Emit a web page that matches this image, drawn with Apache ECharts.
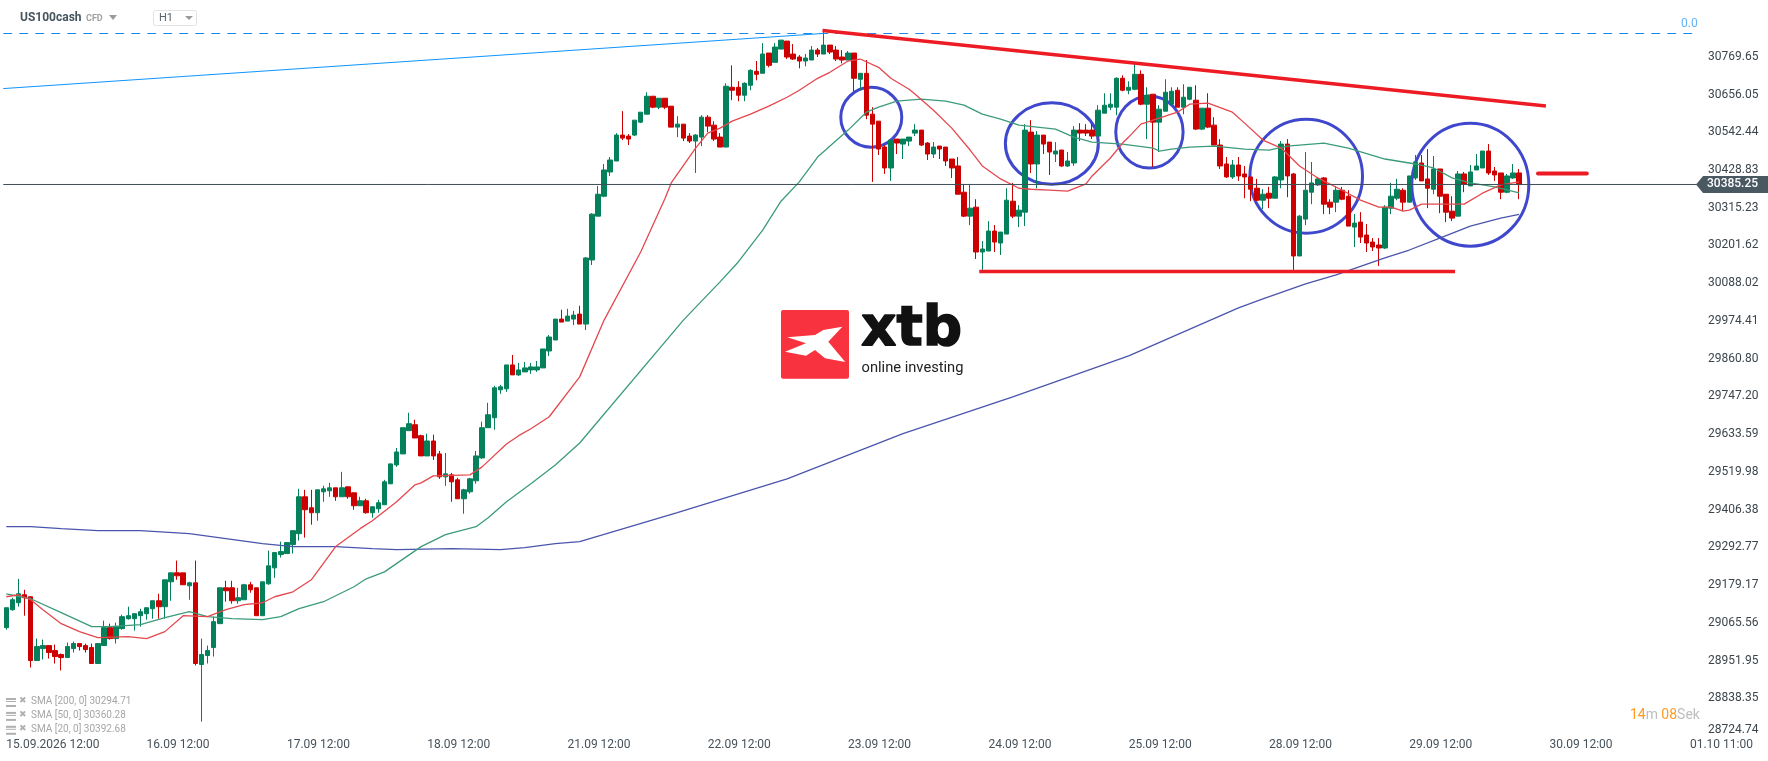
<!DOCTYPE html>
<html>
<head>
<meta charset="utf-8">
<title>US100cash H1</title>
<style>
html, body { margin: 0; padding: 0; background: #fff; }
#chart { width: 1768px; height: 761px; }
</style>
<script src="https://cdn.jsdelivr.net/npm/echarts@6/dist/echarts.min.js"></script>
</head>
<body>
<div id="chart"></div>
<script>
// H1 candles
const opens = [29051,29105,29126,29150,29144,28952,28988,28997,28982,28970,28961,28988,29003,28997,28991,28943,28997,29051,29018,29048,29078,29078,29087,29093,29108,29132,29114,29189,29216,29216,29177,29186,28940,28967,28991,29063,29171,29171,29132,29135,29180,29171,29087,29183,29231,29271,29274,29301,29334,29445,29412,29397,29460,29463,29472,29445,29475,29457,29418,29433,29397,29409,29421,29484,29541,29574,29644,29662,29629,29568,29613,29574,29505,29511,29496,29439,29460,29493,29562,29653,29683,29767,29770,29842,29812,29821,29827,29827,29833,29884,29917,29980,29974,29980,29995,29965,30158,30290,30350,30423,30456,30534,30531,30534,30573,30597,30651,30618,30645,30621,30558,30567,30531,30516,30528,30588,30564,30528,30498,30678,30678,30654,30684,30726,30720,30781,30753,30793,30817,30778,30769,30757,30760,30790,30778,30805,30790,30769,30760,30781,30702,30720,30597,30576,30498,30435,30522,30507,30516,30540,30549,30510,30477,30501,30498,30462,30441,30362,30290,30317,30182,30185,30245,30209,30236,30335,30290,30302,30543,30447,30534,30513,30477,30489,30441,30450,30549,30549,30549,30531,30600,30618,30618,30705,30669,30672,30717,30627,30657,30573,30606,30627,30669,30618,30642,30639,30552,30615,30564,30504,30447,30408,30444,30417,30408,30374,30338,30359,30344,30399,30507,30417,30170,30281,30362,30384,30405,30332,30332,30368,30350,30257,30272,30233,30212,30203,30194,30314,30344,30368,30332,30405,30450,30402,30371,30432,30356,30305,30290,30417,30381,30429,30435,30486,30426,30420,30362,30405,30420];
const closes = [29111,29135,29153,29141,28952,28994,28997,28976,28964,28961,28994,29003,28994,28985,28943,29003,29051,29018,29054,29084,29087,29093,29099,29111,29132,29114,29195,29216,29207,29180,29186,28943,28970,28982,29069,29171,29162,29132,29141,29180,29165,29087,29189,29237,29277,29280,29307,29343,29445,29406,29397,29466,29469,29472,29445,29472,29445,29418,29433,29397,29415,29427,29490,29544,29580,29653,29665,29622,29568,29613,29568,29505,29514,29490,29439,29466,29499,29568,29653,29692,29773,29776,29842,29812,29827,29833,29836,29836,29890,29926,29980,29971,29989,29992,29965,30164,30296,30356,30429,30459,30534,30525,30522,30579,30603,30651,30618,30645,30618,30558,30567,30525,30516,30534,30588,30561,30522,30498,30681,30669,30654,30690,30729,30717,30778,30744,30799,30820,30769,30763,30757,30766,30790,30778,30805,30784,30763,30760,30781,30705,30720,30594,30567,30492,30435,30519,30510,30522,30528,30549,30504,30477,30498,30492,30456,30435,30356,30290,30314,30182,30191,30245,30212,30242,30338,30290,30308,30549,30447,30534,30507,30483,30486,30441,30456,30549,30540,30540,30531,30609,30624,30627,30705,30669,30678,30717,30627,30654,30573,30612,30663,30666,30618,30648,30678,30552,30615,30558,30504,30441,30408,30444,30411,30408,30371,30338,30356,30344,30408,30507,30411,30170,30290,30368,30390,30402,30326,30317,30368,30341,30260,30269,30227,30209,30197,30194,30317,30350,30371,30332,30411,30453,30396,30374,30432,30350,30302,30284,30417,30387,30423,30441,30486,30420,30414,30362,30411,30420,30385];
const lows = [29045,29102,29114,29087,28931,28952,28955,28958,28943,28922,28961,28976,28982,28976,28943,28943,28997,29015,29003,29045,29075,29042,29054,29075,29078,29078,29078,29132,29195,29180,29135,28937,28768,28943,28964,29063,29129,29123,29123,29135,29156,29087,29087,29180,29201,29262,29274,29274,29313,29322,29361,29373,29430,29445,29433,29445,29439,29406,29418,29394,29382,29397,29421,29484,29535,29574,29644,29622,29568,29568,29556,29499,29478,29430,29439,29394,29454,29484,29559,29653,29647,29755,29761,29812,29809,29821,29815,29821,29833,29869,29917,29971,29974,29962,29965,29947,30143,30290,30347,30411,30456,30519,30504,30531,30570,30597,30615,30612,30612,30558,30528,30516,30510,30420,30501,30543,30516,30498,30498,30639,30636,30636,30669,30699,30720,30738,30753,30793,30763,30760,30735,30741,30760,30769,30778,30778,30757,30750,30760,30666,30669,30582,30393,30474,30417,30396,30477,30462,30501,30531,30501,30459,30465,30462,30441,30405,30356,30287,30263,30161,30128,30185,30182,30173,30236,30284,30257,30260,30420,30374,30477,30414,30453,30438,30438,30441,30516,30531,30522,30531,30600,30609,30594,30666,30657,30669,30624,30522,30438,30483,30606,30624,30618,30597,30639,30549,30549,30555,30504,30432,30405,30402,30396,30344,30335,30335,30311,30314,30344,30374,30347,30128,30170,30263,30326,30381,30296,30296,30302,30338,30260,30197,30209,30182,30185,30140,30191,30296,30338,30305,30332,30399,30396,30314,30356,30299,30272,30275,30290,30362,30381,30429,30435,30414,30396,30341,30359,30402,30341];
const highs = [29111,29141,29198,29165,29144,29018,29015,28997,29000,28973,29006,29009,29003,29003,29003,29003,29072,29063,29066,29090,29114,29093,29108,29111,29132,29153,29195,29216,29253,29216,29189,29253,29018,28997,29084,29171,29192,29192,29171,29183,29189,29171,29189,29283,29277,29310,29307,29343,29469,29466,29466,29466,29478,29487,29472,29520,29475,29457,29445,29439,29415,29436,29496,29544,29592,29653,29698,29677,29632,29635,29632,29583,29577,29517,29502,29469,29502,29583,29671,29728,29779,29782,29842,29872,29848,29851,29848,29854,29890,29932,29980,30008,30011,30005,30020,30167,30299,30381,30447,30468,30540,30606,30537,30579,30603,30663,30651,30645,30645,30621,30591,30567,30540,30537,30594,30594,30576,30540,30690,30744,30696,30693,30732,30757,30811,30781,30811,30820,30817,30808,30775,30778,30802,30796,30850,30805,30802,30790,30787,30781,30720,30760,30618,30576,30504,30519,30522,30522,30528,30567,30549,30513,30513,30501,30498,30462,30468,30387,30387,30341,30215,30275,30263,30242,30374,30390,30323,30567,30579,30546,30534,30513,30513,30489,30483,30561,30570,30567,30567,30624,30660,30660,30708,30714,30696,30750,30729,30678,30657,30624,30702,30678,30678,30687,30678,30684,30615,30660,30588,30522,30468,30459,30468,30441,30408,30402,30371,30378,30411,30516,30522,30420,30293,30483,30453,30408,30408,30341,30381,30378,30368,30296,30302,30266,30224,30224,30323,30390,30402,30374,30411,30474,30474,30492,30471,30432,30356,30350,30426,30423,30444,30477,30486,30507,30438,30420,30417,30447,30432];

// moving averages, points at these bars
const sma20Bars = [0,2,4,6,9,12,15,20,23,26,29,33,36,39,42,44,47,50,54,58,60,64,67,68,70,76,78,82,84,86,89,94,98,104,108,109,113,115,117,119,122,125,128,130,133,135,138,140,143,145,148,149,152,155,158,160,163,166,168,171,174,177,178,181,183,184,186,189,192,194,197,201,203,206,209,212,215,219,222,225,227,229,230,232,238,239,242,245,248];
const sma20Values = [29144,29150,29135,29105,29063,29039,29021,29024,29018,29039,29087,29084,29105,29120,29126,29144,29159,29195,29295,29349,29373,29430,29481,29487,29508,29511,29535,29604,29629,29650,29686,29806,29977,30182,30344,30390,30495,30540,30555,30576,30597,30621,30648,30669,30705,30723,30757,30763,30738,30705,30672,30657,30609,30555,30489,30441,30402,30374,30371,30368,30365,30387,30411,30465,30510,30528,30567,30585,30603,30627,30630,30603,30570,30519,30495,30441,30405,30368,30338,30317,30317,30305,30308,30326,30326,30326,30359,30384,30393];
const sma50Bars = [0,4,9,14,17,22,26,30,33,37,42,45,48,52,57,59,62,68,72,77,79,82,86,90,94,111,117,120,124,127,130,133,138,141,143,146,150,154,157,160,163,166,172,175,178,183,188,189,191,194,198,203,207,210,216,220,226,231,234,237,240,244,248];
const sma50Values = [29153,29138,29096,29054,29054,29060,29081,29099,29084,29078,29075,29084,29108,29129,29174,29198,29219,29295,29331,29355,29382,29430,29484,29541,29607,29977,30092,30152,30248,30335,30393,30468,30549,30603,30618,30636,30642,30636,30624,30597,30582,30564,30552,30528,30513,30507,30495,30486,30492,30498,30501,30492,30489,30501,30510,30495,30462,30447,30435,30405,30390,30378,30360];
const sma200Bars = [0,4,9,15,22,30,36,42,47,54,60,64,73,81,85,90,94,110,128,147,165,184,202,206,213,218,226,230,235,240,245,248];
const sma200Values = [29355,29355,29349,29343,29343,29334,29319,29304,29295,29295,29289,29286,29289,29286,29292,29304,29310,29397,29499,29635,29746,29869,30014,30041,30086,30113,30164,30188,30224,30260,30284,30295];

// drawn objects on the chart: bar position and price
const resistanceBars = [133.8, 252.4];
const resistancePrices = [30849, 30621.7];
const supportBars = [159.5, 237.5];
const supportPrices = [30123.5, 30123.5];
const fiboBars = [-0.5, 133.8];
const fiboPrices = [30674, 30839.87];
const fiboLevel = 30839.87;
const targetBars = [251.1, 259.1];
const targetPrices = [30418.3, 30418.3];
const circleBars = [141.8, 171.4, 187.4, 213.1, 240.0];
const circlePrices = [30587.7, 30508.6, 30543.4, 30410.2, 30384.6];
const circleBarRadii = [5.0, 7.62, 5.52, 9.23, 9.59];
const circlePriceRadii = [90.2, 122.4, 108.3, 171.5, 185];

const currentPrice = 30385.25;
const priceTicks = [28724.74,28838.35,28951.95,29065.56,29179.17,29292.77,29406.38,29519.98,29633.59,29747.20,29860.80,29974.41,30088.02,30201.62,30315.23,30428.83,30542.44,30656.05,30769.65];
const dateTicks = ["15.09.2026 12:00","16.09 12:00","17.09 12:00","18.09 12:00","21.09 12:00","22.09 12:00","23.09 12:00","24.09 12:00","25.09 12:00","28.09 12:00","29.09 12:00","30.09 12:00","01.10 11:00"];
const barsPerDay = 23;
const totalBars = 278;
const legendRows = ["SMA [200, 0] 30294.71", "SMA [50, 0] 30360.28", "SMA [20, 0] 30392.68"];

const categories = [];
for (let i = 0; i < totalBars; i++) {
	categories.push(i % barsPerDay === 0 ? dateTicks[i / barsPerDay] : "");
}

function pairs(xs, ys) {
	return xs.map(function (x, i) { return [x, ys[i]]; });
}

function lineSeries(name, xs, ys, color, width, extra) {
	return Object.assign({
		name: name,
		type: "line",
		xAxisIndex: 1,
		yAxisIndex: 0,
		data: pairs(xs, ys),
		showSymbol: false,
		silent: true,
		animation: false,
		lineStyle: { color: color, width: width, opacity: 1 }
	}, extra || {});
}

const chart = echarts.init(document.getElementById("chart"));

// small legend rows bottom left
const legendGraphics = [];
legendRows.forEach(function (text, i) {
	const y = 702 + i * 13.9;
	[-3, 0, 3].forEach(function (dy, k) {
		legendGraphics.push({ type: "rect", shape: { x: 6, y: y + dy - (k === 2 ? 0 : 1), width: 10, height: k === 1 ? 1 : 2 }, style: { fill: "#b0b0b0" } });
	});
	legendGraphics.push({ type: "text", x: 19, y: y - 6, style: { text: "\u2716", fill: "#b0b0b0", font: "9px 'DejaVu Sans'" } });
	legendGraphics.push({ type: "text", x: 31, y: y - 5.5, style: { text: text, fill: "#a6a6a6", font: "10px Roboto" } });
});

const option = {
	animation: false,
	backgroundColor: "#ffffff",
	textStyle: { fontFamily: "Roboto" },
	grid: { left: 3.25, top: 0, width: 1695.8, height: 736, containLabel: false },
	xAxis: [
		{
			type: "category",
			data: categories,
			boundaryGap: true,
			axisLine: { show: false },
			axisTick: { show: false },
			splitLine: { show: false },
			axisLabel: {
				interval: function (i) { return i % barsPerDay === 0; },
				align: "left",
				margin: 3,
				fontSize: 12,
				color: "#46525b",
				fontFamily: "Roboto"
			}
		},
		{ type: "value", min: -0.5, max: totalBars - 0.5, show: false }
	],
	yAxis: {
		type: "value",
		position: "right",
		min: 28724.74,
		max: 30940.74,
		scale: true,
		axisLine: { show: false },
		axisTick: { show: false },
		splitLine: { show: false },
		axisLabel: {
			customValues: priceTicks,
			formatter: function (v) { return v.toFixed(2); },
			verticalAlignMinLabel: "bottom",
			margin: 9,
			fontSize: 12,
			color: "#3c454c",
			fontFamily: "Roboto"
		}
	},
	series: [
		{
			name: "US100cash",
			type: "candlestick",
			xAxisIndex: 0,
			barWidth: 5,
			silent: true,
			itemStyle: { color: "#04805a", color0: "#cc0000", borderColor: "#04805a", borderColor0: "#cc0000", borderWidth: 1 },
			data: opens.map(function (o, i) { return [o, closes[i], lows[i], highs[i]]; })
		},
		lineSeries("SMA 200", sma200Bars, sma200Values, "#4a55ad", 1.3),
		lineSeries("SMA 50", sma50Bars, sma50Values, "#3c9b7b", 1.3),
		lineSeries("SMA 20", sma20Bars, sma20Values, "#e4484e", 1.3),
		lineSeries("Price", [-0.5, totalBars - 0.5], [currentPrice, currentPrice], "#3f4f59", 1),
		lineSeries("Fibo level", [-0.5, totalBars - 0.5], [fiboLevel, fiboLevel], "#1e88e5", 1, {
			lineStyle: { color: "#1e88e5", width: 1, type: [9, 7] }
		}),
		lineSeries("Fibo", fiboBars, fiboPrices, "#0f94ff", 1),
		lineSeries("Resistance", resistanceBars, resistancePrices, "#ed1c24", 3.5),
		lineSeries("Support", supportBars, supportPrices, "#ed1c24", 3.5),
		lineSeries("Target", targetBars, targetPrices, "#ed1c24", 4, {
			lineStyle: { color: "#ed1c24", width: 4, cap: "round" }
		}),
		{
			name: "Circles",
			type: "custom",
			xAxisIndex: 1,
			yAxisIndex: 0,
			silent: true,
			clip: false,
			data: circleBars.map(function (b, i) { return [b, circlePrices[i], circleBarRadii[i], circlePriceRadii[i]]; }),
			renderItem: function (params, api) {
				const c = api.coord([api.value(0), api.value(1)]);
				const e = api.coord([api.value(0) + api.value(2), api.value(1) + api.value(3)]);
				return {
					type: "ellipse",
					shape: { cx: c[0], cy: c[1], rx: e[0] - c[0], ry: c[1] - e[1] },
					style: { fill: "none", stroke: "#3f48cc", lineWidth: 3 }
				};
			}
		},
		{
			name: "Price tag",
			type: "custom",
			xAxisIndex: 1,
			yAxisIndex: 0,
			silent: true,
			clip: false,
			z: 10,
			data: [[totalBars - 0.5, currentPrice]],
			renderItem: function (params, api) {
				const c = api.coord([api.value(0), api.value(1)]);
				const x = c[0] - 3, y = c[1];
				return {
					type: "group",
					children: [
						{ type: "polygon", shape: { points: [[x, y], [x + 7, y - 8.5], [1768, y - 8.5], [1768, y + 8.5], [x + 7, y + 8.5]] }, style: { fill: "#4a5862" } },
						{ type: "text", style: { x: 1707, y: y, text: currentPrice.toFixed(2), fill: "#ffffff", font: "500 12px Roboto", verticalAlign: "middle" } }
					]
				};
			}
		}
	],
	graphic: [
		{ type: "text", x: 20, y: 12, style: { text: "US100cash", fill: "#46545e", font: "bold 12px Roboto" } },
		{ type: "text", x: 86, y: 14.5, style: { text: "CFD", fill: "#a0a0a0", font: "bold 9px Roboto" } },
		{ type: "polygon", shape: { points: [[109, 15], [117, 15], [113, 20]] }, style: { fill: "#9a9a9a" } },
		{ type: "rect", shape: { x: 153.5, y: 10.5, width: 43, height: 15, r: 2 }, style: { fill: "#fff", stroke: "#e3e3e3", lineWidth: 1 } },
		{ type: "text", x: 159, y: 13, style: { text: "H1", fill: "#5a646b", font: "11px Roboto" } },
		{ type: "polygon", shape: { points: [[185, 16], [193, 16], [189, 20]] }, style: { fill: "#9a9a9a" } },
		{ type: "text", x: 1681, y: 18, style: { text: "0.0", fill: "#64b1f6", font: "12px Roboto" } },
		// logo
		{ type: "rect", shape: { x: 781, y: 310, width: 68, height: 68.7, r: 2 }, style: { fill: "#f93240" } },
		{
			type: "polygon",
			shape: { points: [[842.3, 326.7], [828.3, 341.7], [845.3, 362], [825, 358.3], [815, 350], [806, 355.7], [785, 351.7], [806, 343.3], [787.3, 337.3], [815, 335], [823.3, 330]] },
			style: { fill: "#ffffff" }
		},
		{ type: "text", x: 861, y: 303, style: { text: "xtb", fill: "#111111", stroke: "#111111", lineWidth: 1.5, font: "bold 55px 'DejaVu Sans'" } },
		{ type: "text", x: 861.5, y: 361, style: { text: "online investing", fill: "#222222", font: "14.7px Roboto" } },
		{
			type: "text", x: 1630, y: 708,
			style: {
				text: "{o|14}{g|m} {o|08}{g|Sek}",
				rich: {
					o: { fill: "#ff9a1f", font: "14px Roboto" },
					g: { fill: "#bdbdbd", font: "14px Roboto" }
				}
			}
		}
	].concat(legendGraphics)
};

chart.setOption(option);
</script>
</body>
</html>
